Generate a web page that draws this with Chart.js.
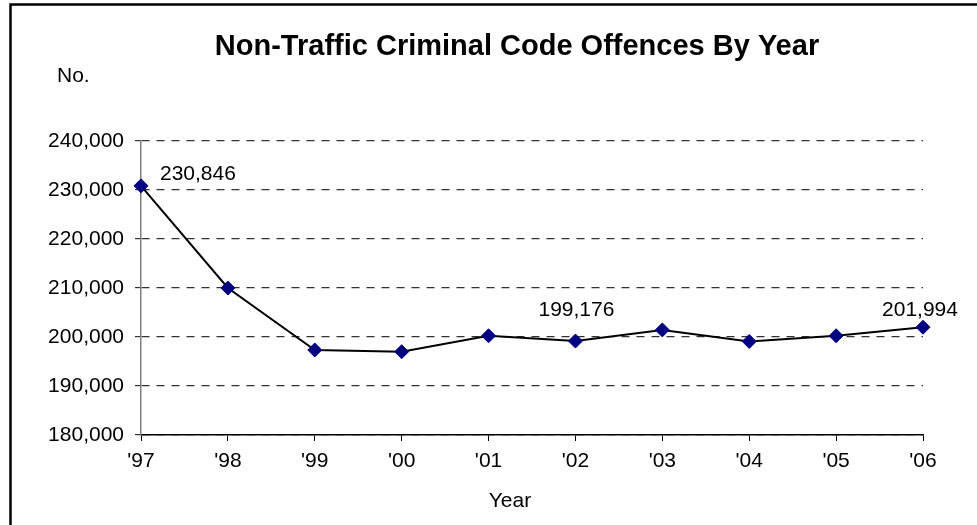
<html>
<head>
    <script src="https://cdn.jsdelivr.net/npm/chart.js@4/dist/chart.umd.min.js"></script>
    <title>Non-Traffic Criminal Code Offences By Year</title>
    <style>
        body { margin: 0; background: #fff; }
        #wrap { width: 977px; height: 525px; }
    </style>
</head>
<body>
<div id="wrap"><canvas id="offences-chart" width="977" height="525"></canvas></div>

<script>
    // data
    var years = ["'97", "'98", "'99", "'00", "'01", "'02", "'03", "'04", "'05", "'06"];
    var offences = [230846, 210000, 197350, 197000, 200250, 199176, 201450, 199100, 200250, 201994];
    var yTicks = [180000, 190000, 200000, 210000, 220000, 230000, 240000];
    var labelledPoints = [0, 5, 9];
    // where each value label sits relative to its point
    var labelOffsets = [
        { dx: 19, dy: -12, align: 'left' },
        { dx: 1, dy: -31, align: 'center' },
        { dx: -3, dy: -17, align: 'center' }
    ];

    var font = "'Liberation Sans', Arial, sans-serif";
    var title = 'Non-Traffic Criminal Code Offences By Year';

    function fmt(v) {
        return v.toLocaleString('en-US');
    }

    // frame, title, "No.", "Year" and the value labels
    var extras = {
        id: 'extras',
        afterDraw: function(chart) {
            var ctx = chart.ctx;
            var area = chart.chartArea;
            var mid = (area.left + area.right) / 2;
            ctx.save();
            ctx.strokeStyle = '#000';
            ctx.lineWidth = 2.5;
            ctx.beginPath();
            ctx.moveTo(10.5, 525);
            ctx.lineTo(10.5, 4.5);
            ctx.lineTo(977, 4.5);
            ctx.stroke();

            ctx.fillStyle = '#000';
            ctx.textBaseline = 'alphabetic';
            ctx.textAlign = 'center';
            ctx.font = "bold 29px " + font;
            ctx.fillText(title, mid - 15, area.top - 86);

            ctx.font = "21px " + font;
            ctx.textAlign = 'left';
            ctx.fillText('No.', area.left - 84, area.top - 59);
            ctx.textAlign = 'center';
            ctx.fillText('Year', mid - 22, area.bottom + 72);

            var meta = chart.getDatasetMeta(0);
            ctx.textBaseline = 'middle';
            labelledPoints.forEach(function(i, k) {
                var p = meta.data[i];
                var o = labelOffsets[k];
                ctx.textAlign = o.align;
                ctx.fillText(fmt(offences[i]), p.x + o.dx, p.y + o.dy);
            });
            ctx.restore();
        }
    };

    new Chart(document.getElementById('offences-chart'), {
        type: 'line',
        data: {
            labels: years,
            datasets: [{
                data: offences,
                borderColor: '#000',
                borderWidth: 2,
                tension: 0,
                fill: false,
                pointStyle: 'rectRot',
                pointRadius: 7,
                pointBackgroundColor: '#000080',
                pointBorderColor: '#000080',
                pointBorderWidth: 1
            }]
        },
        plugins: [extras],
        options: {
            responsive: false,
            animation: false,
            layout: { padding: { left: 0, right: 54, top: 141, bottom: 0 } },
            plugins: {
                legend: { display: false },
                tooltip: { enabled: false },
                title: { display: false }
            },
            scales: {
                x: {
                    offset: false,
                    afterFit: function(scale) { scale.height = 90; },
                    grid: { drawOnChartArea: false, tickLength: 6, color: '#000' },
                    border: { color: '#000', width: 1.5 },
                    ticks: {
                        color: '#000',
                        padding: 8,
                        maxRotation: 0,
                        font: { family: font, size: 21 }
                    }
                },
                y: {
                    min: 180000,
                    max: 240000,
                    afterFit: function(scale) { scale.width = 141; },
                    afterBuildTicks: function(scale) {
                        scale.ticks = yTicks.map(function(v) { return { value: v }; });
                    },
                    grid: { color: '#333', tickLength: 6, lineWidth: 1.2 },
                    border: { color: '#808080', width: 1.5, dash: [8, 7] },
                    ticks: {
                        color: '#000',
                        padding: 11,
                        font: { family: font, size: 21 },
                        callback: function(v) { return fmt(v); }
                    }
                }
            }
        }
    });
</script>
</body>
</html>
